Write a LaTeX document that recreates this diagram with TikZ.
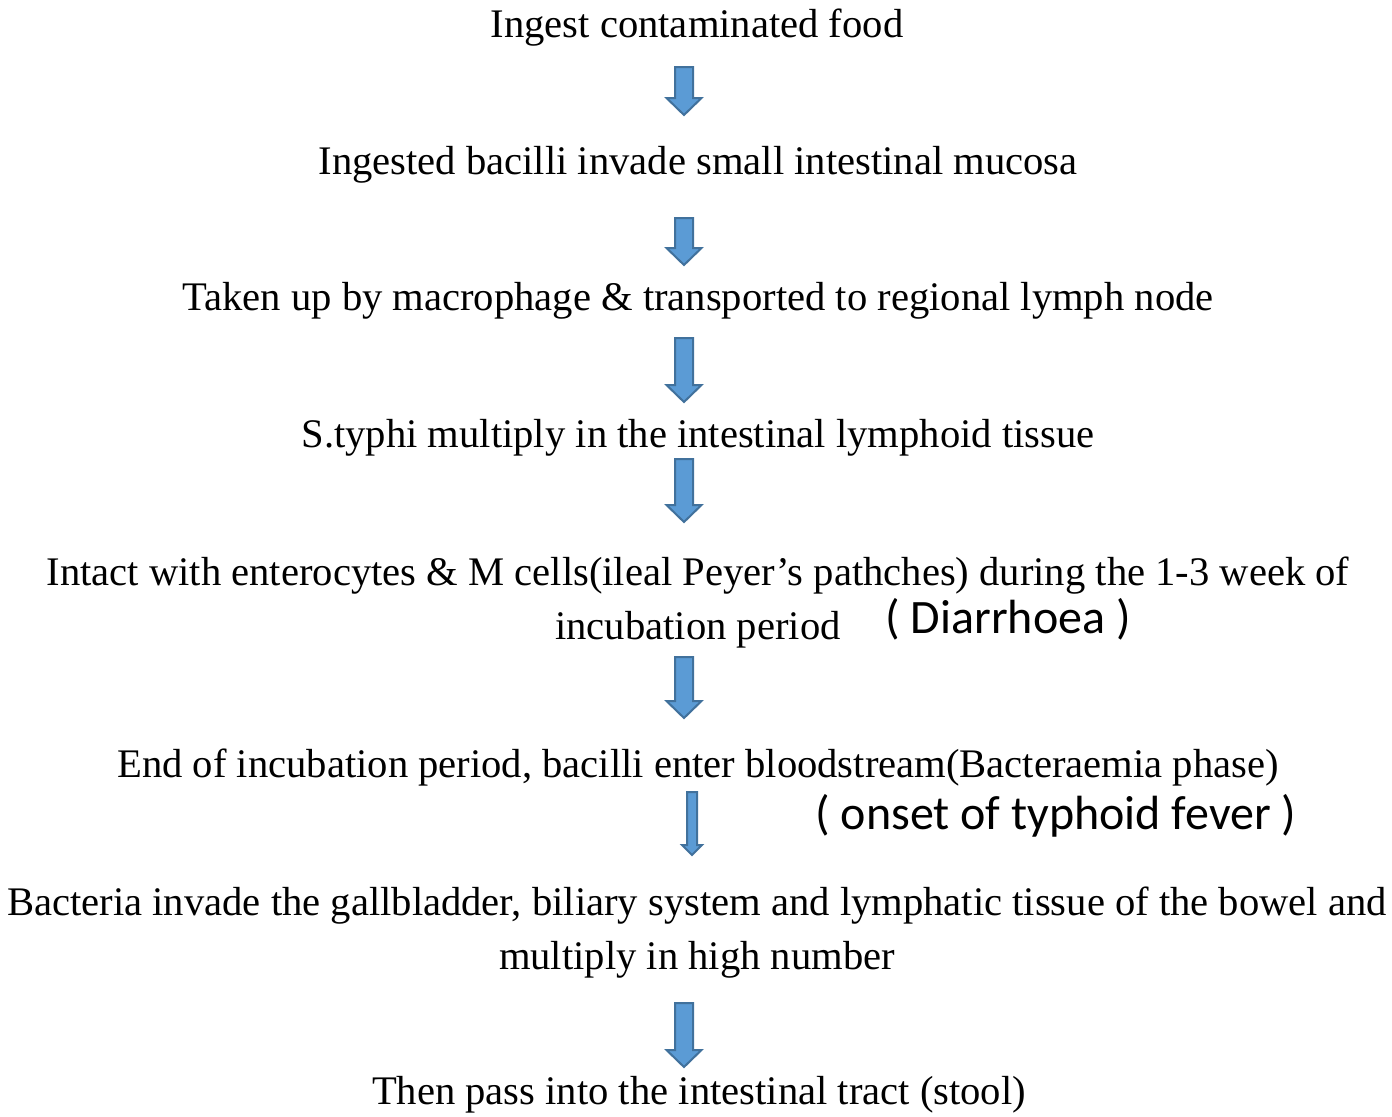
\documentclass[tikz,border=0pt]{standalone}
\usepackage{fontspec}
\setmainfont{Liberation Serif}
\newfontfamily\notefont{Carlito}
\usetikzlibrary{calc,positioning}
\definecolor{arrowfill}{HTML}{5B9BD5}
\definecolor{arrowline}{HTML}{41719C}
\tikzset{
  step text/.style={anchor=base, align=center, inner sep=0pt,
    font=\fontsize{20.3}{27}\selectfont},
  note/.style={anchor=base west, inner sep=0pt,
    font=\notefont\fontsize{24}{28}\selectfont},
  blockarrow/.style n args={3}{draw=arrowline, fill=arrowfill, line width=1pt,
    line join=miter,
    to path={let \p1=(\tikztostart), \p2=(\tikztotarget) in
      (\x1-#1,\y1) -- (\x1+#1,\y1) -- (\x1+#1,\y2+#3) -- (\x1+#2,\y2+#3)
      -- (\x1,\y2) -- (\x1-#2,\y2+#3) -- (\x1-#1,\y2+#3) -- cycle}},
  fatarrow/.style={blockarrow={4.5pt}{8.75pt}{8.5pt}},
  slimarrow/.style={blockarrow={2.5pt}{5pt}{5pt}}
}
\begin{document}
\begin{tikzpicture}[x=0.5pt, y=-0.5pt]
\useasboundingbox (0,0) rectangle (1392,1116);

% steps (two-line nodes sit on the baseline of their last line)
\node[step text] (ingest) at (697,37) {Ingest contaminated food};
\node[step text] (invade) at (698,174) {Ingested bacilli invade small intestinal mucosa};
\node[step text] (taken) at (698,310) {Taken up by macrophage \& transported to regional lymph node};
\node[step text] (multiply) at (698,447) {S.typhi multiply in the intestinal lymphoid tissue};
\node[step text] (intact) at (698,639) {Intact with enterocytes \& M cells(ileal Peyer's pathches) during the 1-3 week of\\incubation period};
\node[step text] (blood) at (698,777) {End of incubation period, bacilli enter bloodstream(Bacteraemia phase)};
\node[step text] (bacteria) at (697,969) {Bacteria invade the gallbladder, biliary system and lymphatic tissue of the bowel and\\multiply in high number};
\node[step text] (stool) at (699,1104) {Then pass into the intestinal tract (stool)};

% side notes
\node[note] (diarrhoea) at (885,633) {( Diarrhoea )};
\node[note] (onset) at (815,829) {( onset of typhoid fever )};

% arrows
\coordinate (a1t) at (684,67);   \coordinate (a1b) at (684,115);
\coordinate (a2t) at (684,218);  \coordinate (a2b) at (684,265);
\coordinate (a3t) at (684,338);  \coordinate (a3b) at (684,402);
\coordinate (a4t) at (684,459);  \coordinate (a4b) at (684,522);
\coordinate (a5t) at (684,657);  \coordinate (a5b) at (684,718);
\coordinate (a6t) at (692,792);  \coordinate (a6b) at (692,855);
\coordinate (a7t) at (684,1003); \coordinate (a7b) at (684,1067);

\foreach \i in {1,2,3,4,5,7}
  \draw[fatarrow] (a\i t) to (a\i b);
\draw[slimarrow] (a6t) to (a6b);
\end{tikzpicture}
\end{document}
